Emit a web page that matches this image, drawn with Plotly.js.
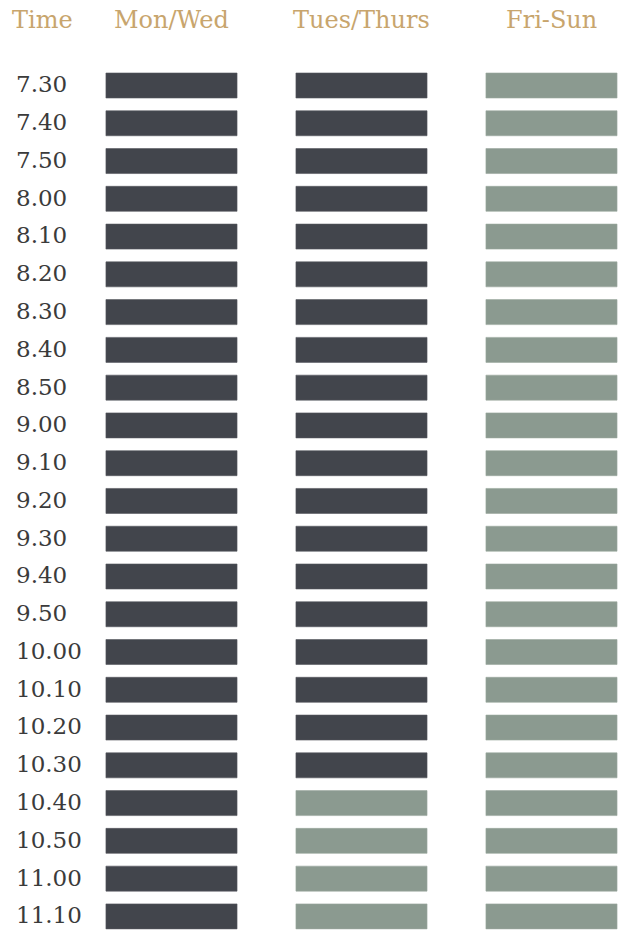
<!DOCTYPE html>
<html>
<head>
<meta charset="utf-8">
<script src="https://cdn.plot.ly/plotly-3.0.1.min.js"></script>
<style>html,body{margin:0;padding:0;background:#fff;}#chart{width:619px;height:930px;}</style>
</head>
<body>
<div id="chart"></div>
<script>
// ---- data ----
const times = ['7.30','7.40','7.50','8.00','8.10','8.20','8.30','8.40','8.50','9.00','9.10','9.20','9.30','9.40','9.50','10.00','10.10','10.20','10.30','10.40','10.50','11.00','11.10'];
const days = ['Mon/Wed','Tues/Thurs','Fri-Sun'];
const timeHeader = 'Time';
// 1 = dark slot, 0 = light slot
const monWed     = [1,1,1,1,1,1,1,1,1,1,1,1,1,1,1,1,1,1,1,1,1,1,1];
const tuesThurs  = [1,1,1,1,1,1,1,1,1,1,1,1,1,1,1,1,1,1,1,0,0,0,0];
const friSun     = [0,0,0,0,0,0,0,0,0,0,0,0,0,0,0,0,0,0,0,0,0,0,0];
const columns = [monWed, tuesThurs, friSun];

// ---- style ----
const DARK = '#42454c', LIGHT = '#8b9a90', GOLD = '#c8a56d', TEXT = '#3b3b3b';
const FONT = 'DejaVu Serif, Georgia, serif';
const barLen = 0.69, barThick = 0.662;
const rows = times.map((t, i) => i);

const traces = columns.map((col, c) => ({
  type: 'bar',
  orientation: 'h',
  y: rows,
  x: col.map(() => barLen),
  base: col.map(() => c - barLen / 2),
  width: barThick,
  marker: {color: col.map(v => v ? DARK : LIGHT), line: {width: 0.6, color: col.map(v => v ? '#55585e' : '#9aa89e')}},
  hoverinfo: 'skip',
  showlegend: false
}));

const annotations = [];
const headerLabelX = -0.68, rowLabelX = -0.83, headerY = -1.73;
annotations.push({x: headerLabelX, y: headerY, xref: 'x', yref: 'y', text: timeHeader, showarrow: false,
  font: {family: FONT, size: 24, color: GOLD}, xanchor: 'center', yanchor: 'middle'});
days.forEach((d, c) => annotations.push({x: c, y: headerY, xref: 'x', yref: 'y', text: d, showarrow: false,
  font: {family: FONT, size: 24, color: GOLD}, xanchor: 'center', yanchor: 'middle'}));
times.forEach((t, i) => annotations.push({x: rowLabelX, y: i - 0.03, xref: 'x', yref: 'y', text: t, showarrow: false,
  font: {family: FONT, size: 23, color: TEXT}, xanchor: 'left', yanchor: 'middle'}));

const layout = {
  width: 619, height: 930,
  margin: {l: 0, r: 0, t: 0, b: 0},
  paper_bgcolor: '#fff', plot_bgcolor: '#fff',
  barmode: 'overlay',
  xaxis: {range: [-0.9026, 2.3553], visible: false, fixedrange: true},
  yaxis: {range: [22.36, -2.264], visible: false, fixedrange: true},
  annotations: annotations
};
Plotly.newPlot('chart', traces, layout, {displayModeBar: false, staticPlot: true});
</script>
</body>
</html>
